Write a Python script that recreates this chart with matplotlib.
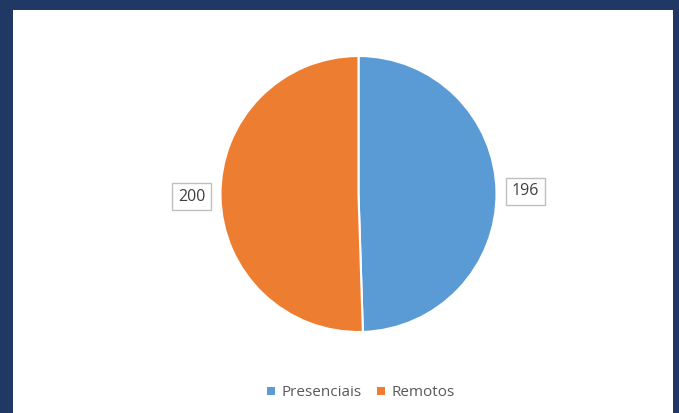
import matplotlib.pyplot as plt
from matplotlib.patches import Rectangle

# data
categories = ["Presenciais", "Remotos"]
values = [196, 200]
colors = ["#5B9BD5", "#ED7D31"]

W, H = 679, 413
fig = plt.figure(figsize=(W / 100, H / 100), dpi=100)
fig.patch.set_facecolor("#203864")
fig.patches.append(Rectangle((13 / W, 0), (673 - 13) / W, (H - 10) / H,
                             transform=fig.transFigure, facecolor="white",
                             edgecolor="none", zorder=-10))

# pie axes: center (358.5, 194) px, radius 138 px
cx, cy, r = 358.5, 194, 138
ax = fig.add_axes([(cx - r) / W, (H - cy - r) / H, 2 * r / W, 2 * r / H])
ax.set_facecolor("none")
wedges, texts = ax.pie(values, colors=colors, startangle=90, counterclock=False,
                       labels=[str(v) for v in values], labeldistance=1.21,
                       wedgeprops=dict(edgecolor="white", linewidth=1.5))
for t in texts:
    t.set_ha("center")
    t.set_va("center")
    t.set_fontsize(11.5)
    t.set_color("#404040")
    t.set_fontfamily("Open Sans")
    t.set_bbox(dict(boxstyle="square,pad=0.35", facecolor="white",
                    edgecolor="#BFBFBF", linewidth=1))
ax.set_xlim(-1, 1)
ax.set_ylim(-1, 1)
ax.axis("off")

leg = fig.legend(wedges, categories, loc="center", bbox_to_anchor=(361 / W, 1 - 393 / H),
                 ncol=2, frameon=False, handlelength=0.5, handleheight=0.5,
                 handletextpad=0.45, columnspacing=1.0,
                 prop=dict(family="Open Sans", size=11))
for t in leg.get_texts():
    t.set_color("#595959")
for h in leg.legend_handles:
    h.set_edgecolor("none")

fig.savefig("out.png", dpi=100, facecolor=fig.get_facecolor())
